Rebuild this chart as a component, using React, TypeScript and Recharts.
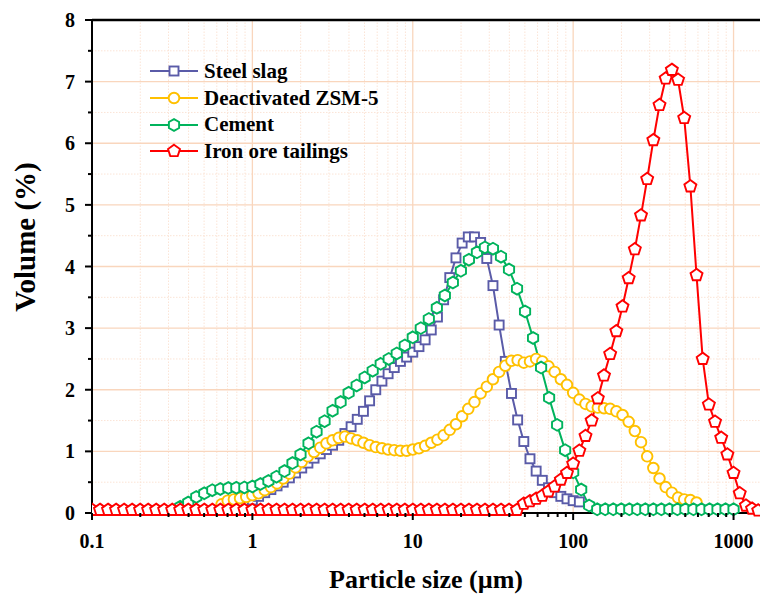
import React from "react";
import { LineChart, Line, XAxis, YAxis, ReferenceLine, Legend } from "recharts";

// 20-per-decade size channels (µm)
const coarseSizes = [
  0.1, 0.1122, 0.1259, 0.1413, 0.1585, 0.1778, 0.1995, 0.2239, 0.2512, 0.2818,
  0.3162, 0.3548, 0.3981, 0.4467, 0.5012, 0.5623, 0.631, 0.7079, 0.7943, 0.8913,
  1, 1.122, 1.259, 1.413, 1.585, 1.778, 1.995, 2.239, 2.512, 2.818,
  3.162, 3.548, 3.981, 4.467, 5.012, 5.623, 6.31, 7.079, 7.943, 8.913,
  10, 11.22, 12.59, 14.13, 15.85, 17.78, 19.95, 22.39, 25.12, 28.18,
  31.62, 35.48, 39.81, 44.67, 50.12, 56.23, 63.1, 70.79, 79.43, 89.13,
  100, 112.2, 125.9, 141.3, 158.5, 177.8, 199.5, 223.9, 251.2, 281.8,
  316.2, 354.8, 398.1, 446.7, 501.2, 562.3, 631, 707.9, 794.3, 891.3,
  1000,
];

// 26-per-decade size channels (µm), from 0.5878
const fineSizes = [
  0.5878, 0.6422, 0.7017, 0.7667, 0.8377, 0.9153,
  1, 1.093, 1.194, 1.304, 1.425, 1.557, 1.701, 1.859, 2.031, 2.219, 2.424, 2.649, 2.894,
  3.162, 3.455, 3.775, 4.125, 4.507, 4.924, 5.38, 5.878, 6.422, 7.017, 7.667, 8.377, 9.153,
  10, 10.93, 11.94, 13.04, 14.25, 15.57, 17.01, 18.59, 20.31, 22.19, 24.24, 26.49, 28.94,
  31.62, 34.55, 37.75, 41.25, 45.07, 49.24, 53.8, 58.78, 64.22, 70.17, 76.67, 83.77, 91.53,
  100, 109.3, 119.4, 130.4, 142.5, 155.7, 170.1, 185.9, 203.1, 221.9, 242.4, 264.9, 289.4,
  316.2, 345.5, 377.5, 412.5, 450.7, 492.4, 538, 587.8, 642.2, 701.7, 766.7, 837.7, 915.3,
  1000, 1093, 1194, 1304, 1425,
];

const steelSlagValues = [
  0.12, 0.17, 0.21, 0.27, 0.33, 0.38, 0.44, 0.5, 0.57, 0.65,
  0.73, 0.81, 0.89, 0.96, 1.03, 1.1, 1.18, 1.29, 1.4, 1.52,
  1.65, 1.82, 2.0, 2.14, 2.26, 2.36, 2.46, 2.53, 2.61, 2.7,
  2.81, 2.97, 3.18, 3.46, 3.82, 4.14, 4.38, 4.48, 4.48, 4.39,
  4.13, 3.69, 3.05, 2.46, 1.94, 1.51, 1.16, 0.88, 0.68, 0.53,
  0.41, 0.33, 0.27, 0.23, 0.2, 0.18,
];

const zsm5Values = [
  0.14, 0.2, 0.22, 0.24, 0.26, 0.29, 0.32, 0.37, 0.42, 0.48,
  0.56, 0.64, 0.74, 0.83, 0.92, 0.99, 1.06, 1.13, 1.18, 1.22,
  1.24, 1.21, 1.18, 1.14, 1.1, 1.07, 1.05, 1.03, 1.02, 1.01,
  1.01, 1.03, 1.05, 1.09, 1.14, 1.19, 1.26, 1.35, 1.44, 1.57,
  1.69, 1.8, 1.94, 2.05, 2.17, 2.29, 2.39, 2.47, 2.48, 2.44,
  2.46, 2.5, 2.46, 2.38, 2.29, 2.17, 2.08, 1.95, 1.84, 1.77,
  1.73, 1.71, 1.7, 1.69, 1.65, 1.59, 1.48, 1.33, 1.15, 0.92,
  0.73, 0.56, 0.42, 0.33, 0.25, 0.22, 0.21, 0.17,
];

const cementValues = [
  0.1, 0.17, 0.26, 0.32, 0.37, 0.39, 0.405, 0.41, 0.415, 0.43,
  0.47, 0.52, 0.59, 0.68, 0.81, 0.95, 1.13, 1.32, 1.49, 1.66,
  1.8, 1.95, 2.07, 2.2, 2.31, 2.42, 2.5, 2.59, 2.72, 2.85,
  3.0, 3.15, 3.33, 3.53, 3.74, 3.93, 4.11, 4.23, 4.31, 4.29,
  4.16, 3.95, 3.64, 3.27, 2.84, 2.36, 1.87, 1.43, 1.02, 0.66,
  0.38, 0.12, 0.06, 0.06, 0.06, 0.06, 0.06, 0.06, 0.06, 0.06,
  0.06, 0.06, 0.06, 0.06, 0.06, 0.06, 0.06, 0.06, 0.06, 0.06,
];

const ironBaseValues = [
  0.05, 0.05, 0.05, 0.05, 0.05, 0.05, 0.05, 0.05, 0.05, 0.05,
  0.05, 0.05, 0.05, 0.05, 0.05, 0.05, 0.05, 0.05, 0.05, 0.05,
  0.05, 0.05, 0.05, 0.05, 0.05, 0.05, 0.05, 0.05, 0.05, 0.05,
  0.05, 0.05, 0.05, 0.05, 0.05, 0.05, 0.05, 0.05, 0.05, 0.05,
  0.05, 0.05, 0.05, 0.05, 0.05, 0.05, 0.05, 0.05, 0.05, 0.05,
  0.05, 0.05, 0.05, 0.05,
];

const ironPeakValues = [
  0.15, 0.19, 0.23, 0.28, 0.35, 0.43, 0.54, 0.65, 0.8, 1.01,
  1.25, 1.5, 1.86, 2.23, 2.58, 2.95, 3.35, 3.81, 4.28, 4.83,
  5.42, 6.05, 6.62, 7.05, 7.19, 7.03, 6.41, 5.3, 3.86, 2.5,
  1.76, 1.48, 1.22, 0.95, 0.65, 0.32, 0.12, 0.07, 0.04,
];

const xMajor = [0.1, 1, 10, 100, 1000];
const xMinor = [
  0.2, 0.3, 0.4, 0.5, 0.6, 0.7, 0.8, 0.9,
  2, 3, 4, 5, 6, 7, 8, 9,
  20, 30, 40, 50, 60, 70, 80, 90,
  200, 300, 400, 500, 600, 700, 800, 900,
];
const yMajor = [0, 1, 2, 3, 4, 5, 6, 7, 8];
const yMinor = [0.5, 1.5, 2.5, 3.5, 4.5, 5.5, 6.5, 7.5];

const pair = (xs: number[], ys: number[]) => xs.map((x, i) => ({ x, y: ys[i] }));

const steelSlag = pair(fineSizes.slice(4, 60), steelSlagValues);
const zsm5 = pair(fineSizes.slice(1, 79), zsm5Values);
const cement = pair(coarseSizes.slice(11, 81), cementValues);
const iron = [
  ...pair(coarseSizes.slice(0, 54), ironBaseValues),
  ...pair(fineSizes.slice(50, 89), ironPeakValues),
];

const FONT = "'Liberation Serif', 'Times New Roman', serif";
const MAJOR_GRID = "#f9d6bd";
const MINOR_GRID = "#fbe4d6";

const polygon = (cx: number, cy: number, r: number, n: number) =>
  Array.from({ length: n }, (_, i) => {
    const a = -Math.PI / 2 + (i * 2 * Math.PI) / n;
    return `${cx + r * Math.cos(a)},${cy + r * Math.sin(a)}`;
  }).join(" ");

function Marker({ kind, cx, cy, color }: { kind: string; cx: number; cy: number; color: string }) {
  const common = { fill: "#fff", stroke: color, strokeWidth: 1.9 };
  if (kind === "square") return <rect x={cx - 4.5} y={cy - 4.5} width={9} height={9} {...common} />;
  if (kind === "circle") return <circle cx={cx} cy={cy} r={5.3} {...common} />;
  if (kind === "hexagon") return <polygon points={polygon(cx, cy, 5.9, 6)} {...common} />;
  return <polygon points={polygon(cx, cy, 6.3, 5)} {...common} />;
}

const series = [
  { name: "Steel slag", data: steelSlag, color: "#5a5ba8", kind: "square" },
  { name: "Deactivated ZSM-5", data: zsm5, color: "#ffc000", kind: "circle" },
  { name: "Cement", data: cement, color: "#00b35c", kind: "hexagon" },
  { name: "Iron ore tailings", data: iron, color: "#ff0000", kind: "pentagon" },
];

const XTick = (props: any) => {
  const { x, y, payload } = props;
  const major = xMajor.includes(payload.value);
  return (
    <g>
      <line x1={x} x2={x} y1={y} y2={y + (major ? 7 : 4)} stroke="#000" strokeWidth={2} />
      {major && (
        <text x={x} y={y + 35} textAnchor="middle" fontFamily={FONT} fontWeight="bold" fontSize={20} fill="#000">
          {String(payload.value)}
        </text>
      )}
    </g>
  );
};

const YTick = (props: any) => {
  const { x, y, payload } = props;
  const major = yMajor.includes(payload.value);
  return (
    <g>
      <line x1={x} x2={x - (major ? 7 : 4)} y1={y} y2={y} stroke="#000" strokeWidth={2} />
      {major && (
        <text x={x - 17} y={y + 7} textAnchor="end" fontFamily={FONT} fontWeight="bold" fontSize={20} fill="#000">
          {payload.value}
        </text>
      )}
    </g>
  );
};

const renderLegend = () => (
  <div style={{ fontFamily: FONT, fontWeight: "bold", fontSize: 21, color: "#000" }}>
    {series.map((s) => (
      <div key={s.name} style={{ display: "flex", alignItems: "center", height: 26.7 }}>
        <svg width={56} height={20}>
          <line x1={2} x2={50} y1={10} y2={10} stroke={s.color} strokeWidth={2} />
          <Marker kind={s.kind} cx={26} cy={10} color={s.color} />
        </svg>
        <span style={{ whiteSpace: "nowrap" }}>{s.name}</span>
      </div>
    ))}
  </div>
);

export default function App() {
  return (
    <div style={{ position: "absolute", left: 0, top: 0, background: "#fff" }}>
      <LineChart width={760} height={595} margin={{ top: 20, right: 0, bottom: 0, left: 0 }}>
        {xMinor.map((v) => (
          <ReferenceLine key={`xm${v}`} x={v} stroke={MINOR_GRID} strokeWidth={1} strokeDasharray="1.5 1.5" />
        ))}
        {yMinor.map((v) => (
          <ReferenceLine key={`ym${v}`} y={v} stroke={MINOR_GRID} strokeWidth={1} strokeDasharray="1.5 1.5" />
        ))}
        {xMajor.slice(1).map((v) => (
          <ReferenceLine key={`xM${v}`} x={v} stroke={MAJOR_GRID} strokeWidth={1.3} />
        ))}
        {yMajor.slice(1, 8).map((v) => (
          <ReferenceLine key={`yM${v}`} y={v} stroke={MAJOR_GRID} strokeWidth={1.3} />
        ))}
        <ReferenceLine y={8} stroke="#000" strokeWidth={2.5} />
        <XAxis
          dataKey="x"
          type="number"
          scale="log"
          domain={[0.1, 1462]}
          allowDataOverflow
          ticks={[...xMajor, ...xMinor]}
          interval={0}
          tick={<XTick />}
          tickLine={false}
          tickSize={0}
          tickMargin={0}
          axisLine={{ stroke: "#000", strokeWidth: 2 }}
          height={82}
          label={(p: any) => {
            const vb = p.viewBox;
            return (
              <text x={vb.x + vb.width / 2} y={vb.y + 75} textAnchor="middle" fontFamily={FONT} fontWeight="bold" fontSize={26} fill="#000">
                Particle size (µm)
              </text>
            );
          }}
        />
        <YAxis
          type="number"
          domain={[0, 8]}
          ticks={[...yMajor, ...yMinor]}
          interval={0}
          tick={<YTick />}
          tickLine={false}
          tickSize={0}
          tickMargin={0}
          axisLine={{ stroke: "#000", strokeWidth: 2 }}
          width={92}
          label={() => (
            <text x={35} y={237} transform="rotate(-90 35 237)" textAnchor="middle" fontFamily={FONT} fontWeight="bold" fontSize={29} fill="#000">
              Volume (%)
            </text>
          )}
        />
        <Legend
          layout="vertical"
          align="center"
          verticalAlign="middle"
          content={renderLegend}
          wrapperStyle={{ position: "absolute", left: 148, top: 58, width: 260 }}
        />
        {series.map((s) => (
          <Line
            key={s.name}
            data={s.data}
            dataKey="y"
            name={s.name}
            stroke={s.color}
            strokeWidth={2}
            isAnimationActive={false}
            activeDot={false}
            dot={(p: any) => <Marker key={`${s.name}-${p.index}`} kind={s.kind} cx={p.cx} cy={p.cy} color={s.color} />}
          />
        ))}
      </LineChart>
    </div>
  );
}
